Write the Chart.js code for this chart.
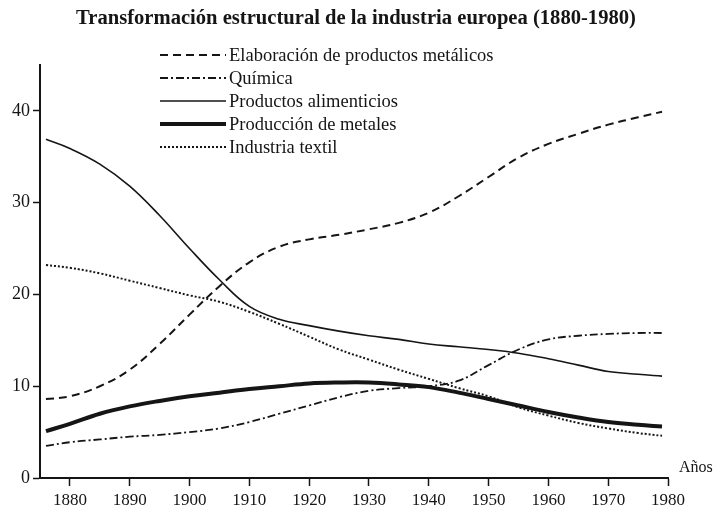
<!DOCTYPE html>
<html>
<head>
<meta charset="utf-8">
<script src="https://cdn.jsdelivr.net/npm/chart.js@4.4.1/dist/chart.umd.min.js"></script>
<style>
  body { margin: 0; background: #fff; }
  #wrap { width: 713px; height: 516px; }
</style>
</head>
<body>
<div id="wrap"><canvas id="industryChart" width="713" height="516"></canvas></div>
<script>
const years = [1876, 1880, 1885, 1890, 1895, 1900, 1905, 1910, 1915, 1920, 1925, 1930, 1935, 1940, 1945, 1950, 1955, 1960, 1965, 1970, 1975, 1979];
const elaboracion = [8.6, 8.9, 10.0, 11.8, 14.6, 17.8, 20.9, 23.5, 25.2, 26.0, 26.5, 27.1, 27.8, 28.9, 30.7, 32.8, 34.9, 36.4, 37.5, 38.5, 39.3, 39.9];
const quimica = [3.5, 3.9, 4.2, 4.5, 4.7, 5.0, 5.4, 6.1, 7.0, 7.9, 8.8, 9.5, 9.8, 10.0, 10.6, 12.3, 14.0, 15.1, 15.5, 15.7, 15.8, 15.8];
const alimenticios = [36.9, 35.9, 34.2, 31.8, 28.6, 25.0, 21.6, 18.7, 17.3, 16.6, 16.0, 15.5, 15.1, 14.6, 14.3, 14.0, 13.6, 13.0, 12.3, 11.6, 11.3, 11.1];
const metales = [5.1, 5.9, 7.0, 7.8, 8.4, 8.9, 9.3, 9.7, 10.0, 10.3, 10.4, 10.4, 10.2, 9.9, 9.3, 8.6, 7.9, 7.2, 6.6, 6.1, 5.8, 5.6];
const textil = [23.2, 22.9, 22.3, 21.5, 20.7, 19.9, 19.2, 18.1, 16.8, 15.4, 14.0, 12.9, 11.8, 10.8, 9.8, 8.9, 7.7, 6.8, 6.0, 5.4, 4.9, 4.6];
const xTicks = [1880, 1890, 1900, 1910, 1920, 1930, 1940, 1950, 1960, 1970, 1980];
const yTicks = [0, 10, 20, 30, 40];

const chartTitle = 'Transformación estructural de la industria europea (1880-1980)';
const ink = '#151515';
const serif = "'Liberation Serif', 'DejaVu Serif', serif";

function series(label, values, width, dash) {
    return {
        label: label,
        data: values.map((v, i) => ({ x: years[i], y: v })),
        borderColor: ink,
        borderWidth: width,
        borderDash: dash,
        pointRadius: 0,
        fill: false,
        tension: 0.4
    };
}

// title, legend inside the plot, and the "Años" label
const extras = {
    id: 'extras',
    afterDraw(chart) {
        const c = chart.ctx;
        c.save();
        c.fillStyle = ink;
        c.textBaseline = 'middle';
        c.textAlign = 'center';
        c.font = 'bold 20.6px ' + serif;
        c.fillText(chartTitle, 356, 19);
        c.textAlign = 'left';
        c.font = '18.5px ' + serif;
        chart.data.datasets.forEach((ds, i) => {
            const y = 55 + i * 23;
            c.beginPath();
            c.strokeStyle = ink;
            c.lineWidth = ds.borderWidth;
            c.setLineDash(ds.borderDash || []);
            c.moveTo(160, y);
            c.lineTo(226, y);
            c.stroke();
            c.fillText(ds.label, 229, y + 1);
        });
        c.setLineDash([]);
        c.font = '16px ' + serif;
        c.fillText('Años', 679, 468);
        c.restore();
    }
};

const ctx = document.getElementById('industryChart').getContext('2d');
new Chart(ctx, {
    type: 'line',
    data: {
        datasets: [
            series('Elaboración de productos metálicos', elaboracion, 2, [8, 5]),
            series('Química', quimica, 1.8, [8, 3, 2, 3]),
            series('Productos alimenticios', alimenticios, 1.6, []),
            series('Producción de metales', metales, 4, []),
            series('Industria textil', textil, 2, [2, 2])
        ]
    },
    options: {
        responsive: false,
        animation: false,
        layout: { padding: { top: 65, left: 0, right: 45, bottom: 0 } },
        plugins: {
            legend: { display: false },
            tooltip: { enabled: false },
            title: { display: false }
        },
        scales: {
            x: {
                type: 'linear',
                min: 1875,
                max: 1980,
                afterBuildTicks: (s) => { s.ticks = xTicks.map(v => ({ value: v })); },
                afterFit: (s) => { s.height = 38; },
                grid: { drawOnChartArea: false, tickLength: 8, color: ink, tickWidth: 1.5 },
                border: { color: ink, width: 2 },
                ticks: { color: ink, font: { family: serif, size: 17 }, padding: 4, callback: (v) => String(v) }
            },
            y: {
                min: 0,
                max: 45,
                afterBuildTicks: (s) => { s.ticks = yTicks.map(v => ({ value: v })); },
                afterFit: (s) => { s.width = 40; },
                grid: { drawOnChartArea: false, tickLength: 7, color: ink, tickWidth: 1.5 },
                border: { color: ink, width: 2 },
                ticks: { color: ink, font: { family: serif, size: 18 }, padding: 3 }
            }
        }
    },
    plugins: [extras]
});
</script>
</body>
</html>
